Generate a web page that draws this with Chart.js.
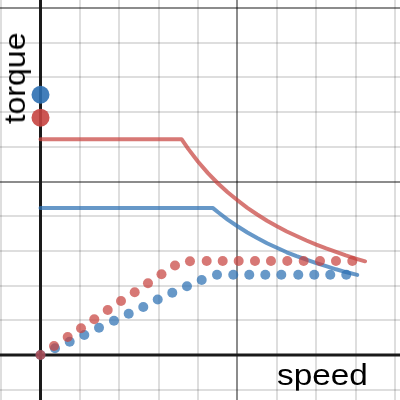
<!DOCTYPE html>
<html>
<head>
<meta charset="utf-8">
<script src="https://cdn.jsdelivr.net/npm/chart.js@4"></script>
<style>
  html, body { margin: 0; padding: 0; background: #fff; }
  #wrap { position: relative; width: 400px; height: 400px; overflow: hidden; }
  .lbl { position: absolute; left: 0; top: 0; white-space: nowrap; line-height: 1;
         font-family: "Liberation Sans", Arial, sans-serif; color: #000; transform-origin: 0 0; }
  #speed { font-size: 29px; transform: translate(277px, 360.5px) scaleX(1.15); }
  #torque { font-size: 30px; transform: translate(0px, 123.5px) rotate(-90deg) scaleX(1.07); }
</style>
</head>
<body>
<div id="wrap">
  <canvas id="chart" width="400" height="400"></canvas>
  <div class="lbl" id="speed">speed</div>
  <div class="lbl" id="torque">torque</div>
</div>
<script>
// torque curves (solid)
const redCurveX = [0, 3.58, 3.75, 4.0, 4.25, 4.5, 4.75, 5.0, 5.25, 5.5, 5.75, 6.0,
  6.25, 6.5, 6.75, 7.0, 7.25, 7.5, 7.75, 8.0, 8.24];
const redCurveY = [6.22, 6.22, 5.94, 5.57, 5.24, 4.95, 4.69, 4.46, 4.24, 4.05, 3.87, 3.71,
  3.56, 3.43, 3.30, 3.18, 3.07, 2.97, 2.87, 2.78, 2.70];
const blueCurveX = [0, 4.37, 4.5, 4.75, 5.0, 5.25, 5.5, 5.75, 6.0, 6.25, 6.5, 6.75,
  7.0, 7.25, 7.5, 7.75, 8.04];
const blueCurveY = [4.24, 4.24, 4.12, 3.90, 3.71, 3.53, 3.37, 3.22, 3.09, 2.96, 2.85, 2.75,
  2.65, 2.56, 2.47, 2.39, 2.31];

// dotted curves
const redDotsX = [0, 0.343, 0.690, 1.028, 1.365, 1.706, 2.043, 2.391, 2.728, 3.071, 3.414,
  3.794, 4.218, 4.624, 5.030, 5.444, 5.850, 6.264, 6.680, 7.094, 7.500, 7.914];
const redDotsY = [0, 0.259, 0.519, 0.769, 1.029, 1.297, 1.556, 1.807, 2.066, 2.326, 2.579,
  2.70, 2.71, 2.71, 2.71, 2.71, 2.71, 2.71, 2.71, 2.71, 2.71, 2.71];
const blueDotsX = [0, 0.368, 0.741, 1.112, 1.485, 1.865, 2.239, 2.609, 2.975, 3.345, 3.718,
  4.091, 4.480, 4.893, 5.299, 5.706, 6.112, 6.543, 6.949, 7.355, 7.761];
const blueDotsY = [0, 0.193, 0.383, 0.576, 0.787, 0.988, 1.190, 1.383, 1.599, 1.795, 1.980,
  2.161, 2.314, 2.314, 2.314, 2.314, 2.314, 2.314, 2.314, 2.314, 2.314];

// single points on the torque axis
const bluePoint = [0, 7.5];
const redPoint = [0, 6.84];

const RED = 'rgba(199, 68, 64, 0.72)';
const BLUE = 'rgba(45, 112, 179, 0.72)';

const toXY = (xs, ys) => xs.map((x, i) => ({ x: x, y: ys[i] }));

// draw the two axes on top of the grid
const axesPlugin = {
    id: 'axes',
    beforeDatasetsDraw(chart) {
        const ctx = chart.ctx;
        const xs = chart.scales.x, ys = chart.scales.y;
        const x0 = xs.getPixelForValue(0), y0 = ys.getPixelForValue(0);
        ctx.save();
        ctx.strokeStyle = '#1a1a1a';
        ctx.lineWidth = 3;
        ctx.beginPath();
        ctx.moveTo(x0, chart.chartArea.top);
        ctx.lineTo(x0, chart.chartArea.bottom);
        ctx.moveTo(chart.chartArea.left, y0);
        ctx.lineTo(chart.chartArea.right, y0);
        ctx.stroke();
        ctx.restore();
    }
};

const gridColor = (c) => {
    const v = c.tick.value;
    if (Math.abs(v) < 1e-9) return 'rgba(0,0,0,0)';
    if (Math.abs(v % 5) < 1e-9) return 'rgba(0,0,0,0.45)';
    return 'rgba(0,0,0,0.13)';
};

const axisOpts = (min, max) => ({
    type: 'linear',
    min: min,
    max: max,
    ticks: { display: false, stepSize: 1, includeBounds: false },
    grid: { color: gridColor, lineWidth: 2, drawTicks: false },
    border: { display: false }
});

const ctx = document.getElementById('chart').getContext('2d');
new Chart(ctx, {
    type: 'scatter',
    data: {
        datasets: [
            {
                label: 'blue torque',
                data: toXY(blueCurveX, blueCurveY),
                showLine: true,
                borderColor: BLUE,
                borderWidth: 4,
                borderCapStyle: 'round',
                borderJoinStyle: 'round',
                pointRadius: 0,
                tension: 0,
                order: 6
            },
            {
                label: 'red torque',
                data: toXY(redCurveX, redCurveY),
                showLine: true,
                borderColor: RED,
                borderWidth: 4,
                borderCapStyle: 'round',
                borderJoinStyle: 'round',
                pointRadius: 0,
                tension: 0,
                order: 5
            },
            {
                label: 'blue dots',
                data: toXY(blueDotsX, blueDotsY),
                pointRadius: 5,
                pointBorderWidth: 0,
                pointBackgroundColor: BLUE,
                order: 4
            },
            {
                label: 'red dots',
                data: toXY(redDotsX, redDotsY),
                pointRadius: 5,
                pointBorderWidth: 0,
                pointBackgroundColor: RED,
                order: 3
            },
            {
                label: 'red point',
                data: [{ x: redPoint[0], y: redPoint[1] }],
                pointRadius: 9,
                pointBorderWidth: 0,
                pointBackgroundColor: 'rgba(199, 68, 64, 0.9)',
                order: 2
            },
            {
                label: 'blue point',
                data: [{ x: bluePoint[0], y: bluePoint[1] }],
                pointRadius: 9,
                pointBorderWidth: 0,
                pointBackgroundColor: 'rgba(45, 112, 179, 0.9)',
                order: 1
            }
        ]
    },
    options: {
        responsive: false,
        animation: false,
        layout: { padding: 0, autoPadding: false },
        plugins: { legend: { display: false }, tooltip: { enabled: false } },
        scales: {
            x: axisOpts(-1.028, 9.125),
            y: axisOpts(-1.297, 10.231)
        }
    },
    plugins: [axesPlugin]
});
</script>
</body>
</html>
